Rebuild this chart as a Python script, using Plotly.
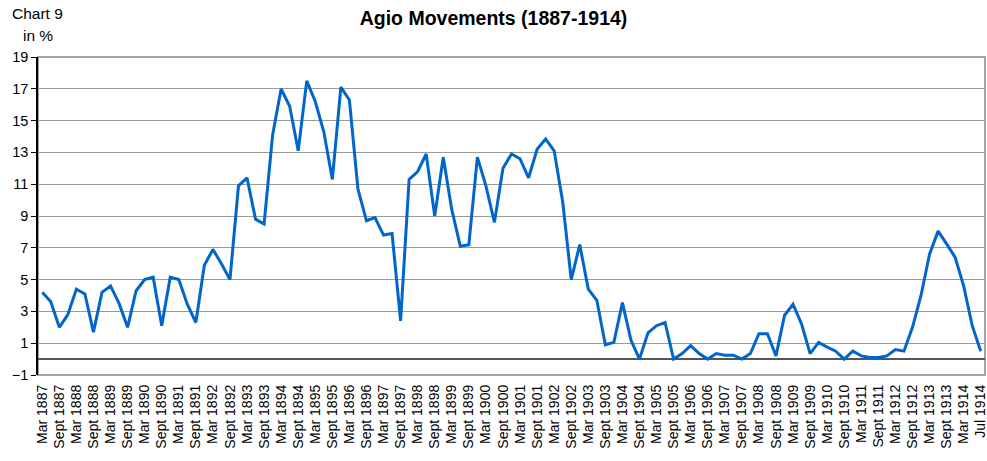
import plotly.graph_objects as go

# ---------------- DATA ----------------
years = list(range(1887, 1914))
quarters = ["Mar", "Jun", "Sept", "Dec"]
periods = [f"{q} {y}" for y in years for q in quarters] + ["Mar 1914", "May 1914", "Jul 1914"]

agio = [
    4.2, 3.6, 2.0, 2.8, 4.4, 4.1, 1.7, 4.2, 4.6, 3.5,
    2.0, 4.3, 5.0, 5.15, 2.1, 5.15, 5.0, 3.45, 2.3, 5.9,
    6.9, 6.0, 5.0, 10.9, 11.4, 8.8, 8.5, 14.1, 17.0, 15.9,
    13.1, 17.5, 16.2, 14.3, 11.3, 17.1, 16.3, 10.7, 8.7, 8.9,
    7.8, 7.9, 2.4, 11.3, 11.8, 12.9, 9.0, 12.7, 9.4, 7.1,
    7.2, 12.7, 10.9, 8.6, 12.0, 12.9, 12.6, 11.4, 13.2, 13.85,
    13.1, 9.9, 5.0, 7.2, 4.4, 3.7, 0.9, 1.05, 3.55, 1.2,
    0.0, 1.65, 2.1, 2.3, 0.0, 0.35, 0.85, 0.35, 0.0, 0.35,
    0.25, 0.25, 0.0, 0.35, 1.6, 1.6, 0.2, 2.75, 3.45, 2.2,
    0.35, 1.05, 0.75, 0.5, 0.0, 0.5, 0.2, 0.1, 0.1, 0.2,
    0.6, 0.5, 2.0, 4.0, 6.6, 8.05, 7.25, 6.4, 4.6, 2.1,
    0.5,
]

tick_labels = periods[::2]
y_ticks = list(range(-1, 20, 2))

# ---------------- FIGURE ----------------
FONT = "Liberation Sans, Arial, sans-serif"
L, R, T, B = 38, 2, 57, 86
W, H = 987, 461
plot_w = W - L - R
plot_h = H - T - B

fig = go.Figure()

fig.add_trace(go.Scatter(
    x=periods,
    y=agio,
    mode="lines",
    line=dict(color="#0066CC", width=3),
    hoverinfo="x+y",
))

fig.update_layout(
    width=W,
    height=H,
    margin=dict(l=L, r=R, t=T, b=B, pad=0, autoexpand=False),
    paper_bgcolor="white",
    plot_bgcolor="white",
    showlegend=False,
    font=dict(family=FONT, size=14, color="black"),
    title=dict(
        text="<b>Agio Movements (1887-1914)</b>",
        x=0.5, xanchor="center",
        y=1 - 18 / H, yanchor="middle",
        font=dict(family=FONT, size=19.5, color="black"),
    ),
)

fig.update_xaxes(
    type="category",
    categoryorder="array",
    categoryarray=periods,
    tickmode="array",
    tickvals=tick_labels,
    ticktext=tick_labels,
    tickangle=-90,
    tickfont=dict(family=FONT, size=14, color="black"),
    ticklabelstandoff=6,
    showgrid=False,
    showline=False,
    ticks="",
    automargin=False,
    range=[-0.5, len(periods) - 0.5],
)

fig.update_yaxes(
    range=[-1, 19],
    tickmode="array",
    tickvals=y_ticks,
    tickfont=dict(family=FONT, size=14.5, color="black"),
    showgrid=True,
    gridcolor="#9a9a9a",
    gridwidth=1,
    zeroline=True,
    zerolinecolor="#555555",
    zerolinewidth=1.5,
    showline=True,
    linecolor="black",
    linewidth=1.5,
    ticks="outside",
    ticklen=5,
    tickcolor="black",
    automargin=False,
)

# plot frame
fig.add_shape(
    type="rect", xref="paper", yref="paper",
    x0=0, x1=1, y0=0, y1=1,
    line=dict(color="#888888", width=1.5),
    layer="below",
)

def px_x(px):
    return (px - L) / plot_w

def px_y(py):
    return (H - B - py) / plot_h

fig.add_annotation(
    text="Chart 9", xref="paper", yref="paper",
    x=px_x(10), y=px_y(13), xanchor="left", yanchor="middle",
    showarrow=False, font=dict(family=FONT, size=15.5, color="black"),
)
fig.add_annotation(
    text="in %", xref="paper", yref="paper",
    x=px_x(21), y=px_y(35), xanchor="left", yanchor="middle",
    showarrow=False, font=dict(family=FONT, size=15.5, color="black"),
)

fig.write_html(
    "out.html",
    config={"displayModeBar": False},
    post_script="document.body.style.margin='0';",
)
